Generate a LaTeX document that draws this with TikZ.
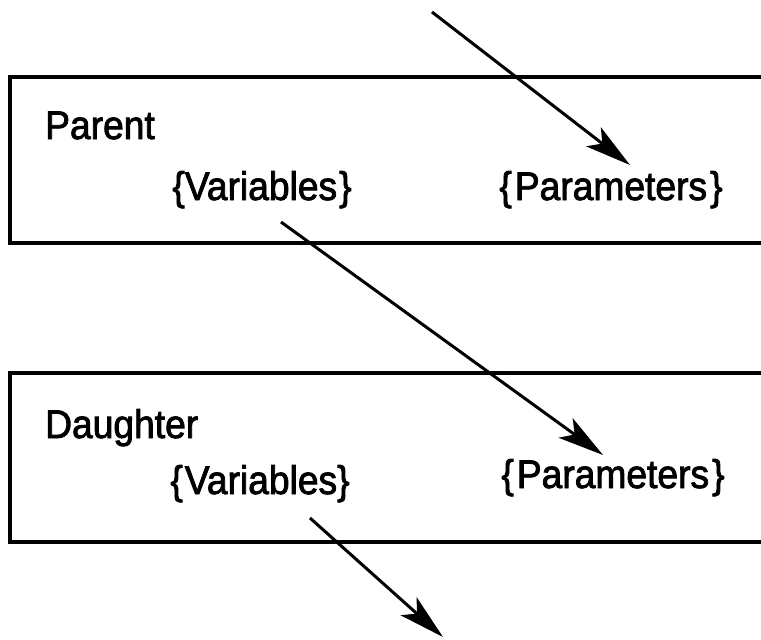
\documentclass[tikz,border=0pt]{standalone}
\usepackage{fontspec}
\setmainfont{Liberation Sans}
\newfontfamily\lblfont[FakeStretch=0.93,FakeBold=2]{Liberation Sans}
\usetikzlibrary{arrows.meta}
\begin{document}
\begin{tikzpicture}[x=1pt,y=-1pt,
  frame/.style={line width=3.5pt},
  conn/.style={line width=3pt,-{Stealth[length=46pt,width=24pt,inset=11pt]}},
  lbl/.style={inner sep=0pt,font=\lblfont\fontsize{40}{44}\selectfont}]
\useasboundingbox (0,0) rectangle (761,640);
% boxes (right side runs off the picture)
\draw[frame] (770,77) -- (10,77) -- (10,243) -- (770,243);
\draw[frame] (770,373) -- (10,373) -- (10,542) -- (770,542);
% texts
\node[lbl,anchor=base west] (parent) at (45,139) {Parent};
\node[lbl,anchor=base] (pvar) at (262,200) {\{Variables\kern2pt\}};
\node[lbl,anchor=base] (ppar) at (611,200) {\{\kern3pt Parameters\kern3pt\}};
\node[lbl,anchor=base west] (daughter) at (45,438) {Daughter};
\node[lbl,anchor=base] (dvar) at (260,494) {\{\kern2pt Variables\}};
\node[lbl,anchor=base] (dpar) at (613,488) {\{\kern3pt Parameters\kern3pt\}};
% connector ends
\coordinate (in) at (432,12);
\coordinate (ptip) at (630,165);
\coordinate (pstart) at (281,222);
\coordinate (dtip) at (603,455);
\coordinate (dstart) at (310,518);
\coordinate (out) at (443,637);
\draw[conn] (in) -- (ptip);
\draw[conn] (pstart) -- (dtip);
\draw[conn] (dstart) -- (out);
\end{tikzpicture}
\end{document}
